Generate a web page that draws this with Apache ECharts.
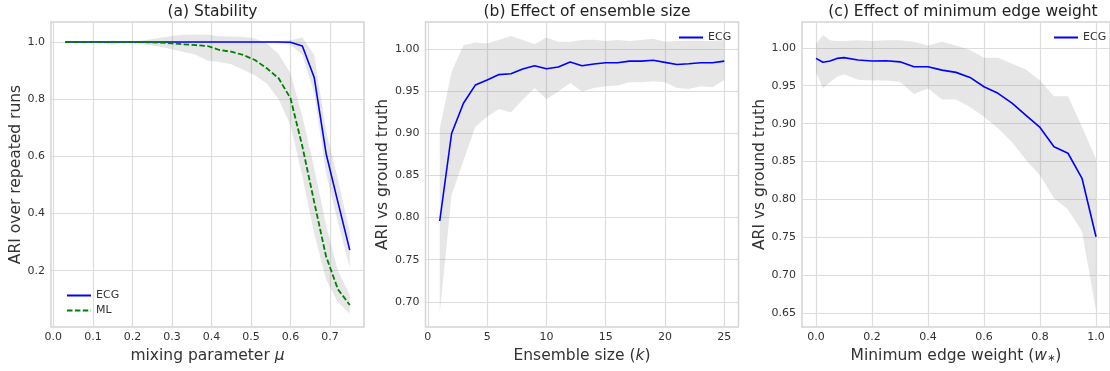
<!DOCTYPE html>
<html>
<head>
<meta charset="utf-8">
<script src="https://cdn.jsdelivr.net/npm/echarts@6/dist/echarts.min.js"></script>
<style>
  html, body { margin: 0; padding: 0; background: #fff; }
  #chart { width: 1110px; height: 371px; }
</style>
</head>
<body>
<div id="chart"></div>
<script>
// (a) stability vs mixing parameter
const mu = [0.03, 0.06, 0.09, 0.12, 0.15, 0.18, 0.21, 0.24, 0.27, 0.30, 0.33, 0.36, 0.39,
  0.42, 0.45, 0.48, 0.51, 0.54, 0.57, 0.60, 0.63, 0.66, 0.69, 0.72, 0.75]
const ecgMu = [1, 1, 1, 1, 1, 1, 1, 1, 1, 1, 1, 1, 1, 1, 1, 1, 1, 1, 1, 0.999, 0.986, 0.876, 0.61, 0.44, 0.272]
const ecgMuLow = [1, 1, 1, 1, 1, 1, 1, 1, 1, 1, 1, 1, 1, 1, 1, 1, 0.999, 0.998, 0.996, 0.99, 0.955, 0.82, 0.54, 0.37, 0.21]
const ecgMuHigh = [1, 1, 1, 1, 1, 1, 1, 1, 1, 1, 1, 1, 1, 1, 1, 1, 1.001, 1.002, 1.003, 1.006, 1.016, 0.955, 0.69, 0.52, 0.335]
const mlMu = [1, 1, 1, 1, 1, 1, 1, 0.999, 0.998, 0.995, 0.992, 0.989, 0.986, 0.972, 0.966, 0.955,
  0.937, 0.908, 0.873, 0.803, 0.635, 0.44, 0.25, 0.135, 0.08]
const mlMuLow = [1, 0.999, 0.998, 0.997, 0.99, 0.997, 0.995, 0.99, 0.983, 0.975, 0.965, 0.955, 0.935,
  0.93, 0.922, 0.903, 0.884, 0.855, 0.80, 0.71, 0.53, 0.33, 0.17, 0.09, 0.05]
const mlMuHigh = [1, 1, 1.001, 1.002, 1.005, 1.002, 1.003, 1.008, 1.015, 1.021, 1.025, 1.026, 1.025,
  1.02, 1.019, 1.018, 1.012, 0.995, 0.958, 0.89, 0.74, 0.56, 0.36, 0.20, 0.115]

// (b) ensemble size
const k = [1, 2, 3, 4, 5, 6, 7, 8, 9, 10, 11, 12, 13, 14, 15, 16, 17, 18, 19, 20, 21, 22, 23, 24, 25]
const ecgK = [0.796, 0.900, 0.936, 0.9575, 0.9635, 0.970, 0.971, 0.9766, 0.9805, 0.977, 0.979, 0.985, 0.9805,
  0.9825, 0.984, 0.984, 0.986, 0.986, 0.987, 0.9845, 0.982, 0.9828, 0.984, 0.984, 0.986]
const ecgKLow = [0.686, 0.827, 0.868, 0.908, 0.92, 0.929, 0.925, 0.94, 0.954, 0.941, 0.95, 0.96, 0.95,
  0.954, 0.956, 0.957, 0.961, 0.961, 0.962, 0.961, 0.954, 0.953, 0.956, 0.955, 0.9635]
const ecgKHigh = [0.906, 0.973, 1.005, 1.008, 1.007, 1.0115, 1.016, 1.011, 1.006, 1.014, 1.009, 1.009, 1.011,
  1.0115, 1.01, 1.011, 1.01, 1.011, 1.0125, 1.009, 1.01, 1.01, 1.01, 1.01, 1.011]

// (c) minimum edge weight
const w = [0, 0.025, 0.05, 0.075, 0.1, 0.15, 0.2, 0.25, 0.3, 0.35, 0.4, 0.45, 0.5, 0.55, 0.6,
  0.65, 0.7, 0.75, 0.8, 0.85, 0.9, 0.95, 1.0]
const ecgW = [0.986, 0.981, 0.9825, 0.986, 0.987, 0.984, 0.9825, 0.983, 0.9815, 0.975, 0.975, 0.9706,
  0.9676, 0.961, 0.9487, 0.940, 0.927, 0.911, 0.895, 0.8696, 0.861, 0.828, 0.751]
const ecgWLow = [0.968, 0.9465, 0.955, 0.962, 0.965, 0.958, 0.957, 0.957, 0.955, 0.939, 0.9465, 0.932,
  0.932, 0.922, 0.909, 0.894, 0.876, 0.852, 0.832, 0.8016, 0.787, 0.758, 0.654]
const ecgWHigh = [1.005, 1.017, 1.01, 1.009, 1.009, 1.01, 1.009, 1.01, 1.01, 1.008, 1.003, 1.008,
  1.003, 0.997, 0.987, 0.987, 0.979, 0.9715, 0.957, 0.936, 0.936, 0.896, 0.853]

// tick labels
const muTicks = [0, 0.1, 0.2, 0.3, 0.4, 0.5, 0.6, 0.7]
const ariTicks = [0.2, 0.4, 0.6, 0.8, 1.0]
const kTicks = [0, 5, 10, 15, 20, 25]
const ariKTicks = [0.70, 0.75, 0.80, 0.85, 0.90, 0.95, 1.00]
const wTicks = [0, 0.2, 0.4, 0.6, 0.8, 1.0]
const ariWTicks = [0.65, 0.70, 0.75, 0.80, 0.85, 0.90, 0.95, 1.00]

const font = "DejaVu Sans"
const textColor = "#333"
const gridColor = "#dcdcdc"
const bandColor = "rgba(128,128,128,0.2)"

const pairs = (xs, ys) => xs.map((x, i) => [x, ys[i]])

function xAxisFor(idx, min, max, ticks, digits, name, gap) {
  return {
    gridIndex: idx, type: "value", min, max,
    axisLine: { show: false },
    axisTick: { show: false, customValues: ticks },
    axisLabel: {
      customValues: ticks, margin: 5, fontSize: 11, color: textColor, fontFamily: font,
      formatter: (v) => digits < 0 ? String(Math.round(v)) : v.toFixed(digits),
    },
    splitLine: { show: true, lineStyle: { color: gridColor, width: 1.2 } },
    name, nameLocation: "middle", nameGap: gap,
    nameTextStyle: {
      fontSize: 15.5, color: textColor, fontFamily: font,
      rich: {
        i: { fontSize: 15.5, fontStyle: "italic", color: textColor, fontFamily: font },
        s: { fontSize: 10, color: textColor, fontFamily: font, padding: [6, 0, 0, 0] },
      },
    },
  }
}

function yAxisFor(idx, min, max, ticks, digits, name, gap) {
  return {
    gridIndex: idx, type: "value", min, max,
    axisLine: { show: false },
    axisTick: { show: false, customValues: ticks },
    axisLabel: {
      customValues: ticks, margin: 6, fontSize: 11, color: textColor, fontFamily: font,
      formatter: (v) => v.toFixed(digits),
    },
    splitLine: { show: true, lineStyle: { color: gridColor, width: 1.2 } },
    name, nameLocation: "middle", nameGap: gap,
    nameTextStyle: { fontSize: 15.5, color: textColor, fontFamily: font },
  }
}

function band(idx, xs, lo, hi) {
  return {
    type: "custom",
    xAxisIndex: idx, yAxisIndex: idx,
    data: xs.map((x, i) => [x, lo[i], hi[i]]),
    encode: { x: 0, y: [1, 2] },
    silent: true,
    z: 1,
    renderItem: (params, api) => {
      if (params.dataIndex !== 0) return
      const pts = []
      for (let i = 0; i < xs.length; i++) pts.push(api.coord([xs[i], hi[i]]))
      for (let i = xs.length - 1; i >= 0; i--) pts.push(api.coord([xs[i], lo[i]]))
      return { type: "polygon", shape: { points: pts }, style: { fill: bandColor } }
    },
  }
}

function line(idx, name, xs, ys, color, type, width) {
  return {
    name, type: "line", xAxisIndex: idx, yAxisIndex: idx,
    data: pairs(xs, ys), symbol: "none", z: 3,
    lineStyle: { color, width, type },
    itemStyle: { color },
  }
}

const chart = echarts.init(document.getElementById("chart"))
const titleStyle = { fontSize: 15.5, fontWeight: "normal", color: "#222", fontFamily: font }
const legendBase = {
  itemWidth: 24, itemHeight: 10,
  itemStyle: { color: "transparent", borderColor: "transparent", borderWidth: 0 },
  lineStyle: { width: 2 },
  textStyle: { fontSize: 11, color: textColor, fontFamily: font },
}

const option = {
  animation: false,
  backgroundColor: "#fff",
  title: [
    { text: "(a) Stability", left: 207.5, top: -1, textAlign: "center", textStyle: titleStyle },
    { text: "(b) Effect of ensemble size", left: 582, top: -1, textAlign: "center", textStyle: titleStyle },
    { text: "(c) Effect of minimum edge weight", left: 958, top: -1, textAlign: "center", textStyle: titleStyle },
  ],
  legend: [
    { ...legendBase, data: ["ECG", "ML"], orient: "vertical", left: 61, top: 285, itemGap: 4 },
    { ...legendBase, data: ["ECG"], left: 673, top: 27 },
    { ...legendBase, data: ["ECG"], left: 1048, top: 27 },
  ],
  grid: [
    { left: 51, top: 22, width: 313, height: 305, show: true, borderColor: "#d4d4d4", borderWidth: 1.5 },
    { left: 425.5, top: 22, width: 313, height: 305, show: true, borderColor: "#d4d4d4", borderWidth: 1.5 },
    { left: 802, top: 22, width: 312, height: 305, show: true, borderColor: "#d4d4d4", borderWidth: 1.5 },
  ],
  xAxis: [
    xAxisFor(0, -0.006, 0.786, muTicks, 1, "mixing parameter {i|μ}", 14),
    xAxisFor(1, -0.2, 26.2, kTicks, -1, "Ensemble size ({i|k})", 14),
    xAxisFor(2, -0.05, 1.05, wTicks, 1, "Minimum edge weight ({i|w}{s|∗})", 14),
  ],
  yAxis: [
    yAxisFor(0, 0.003, 1.07, ariTicks, 1, "ARI over repeated runs", 26),
    yAxisFor(1, 0.67, 1.0325, ariKTicks, 2, "ARI vs ground truth", 30),
    yAxisFor(2, 0.632, 1.034, ariWTicks, 2, "ARI vs ground truth", 33),
  ],
  series: [
    band(0, mu, mlMuLow, mlMuHigh),
    band(0, mu, ecgMuLow, ecgMuHigh),
    line(0, "ECG", mu, ecgMu, "#0000ff", "solid", 1.6),
    line(0, "ML", mu, mlMu, "#008000", [5.5, 2.4], 1.8),
    band(1, k, ecgKLow, ecgKHigh),
    line(1, "ECG", k, ecgK, "#0000ff", "solid", 1.6),
    band(2, w, ecgWLow, ecgWHigh),
    line(2, "ECG", w, ecgW, "#0000ff", "solid", 1.6),
  ],
}

chart.setOption(option)
</script>
</body>
</html>
